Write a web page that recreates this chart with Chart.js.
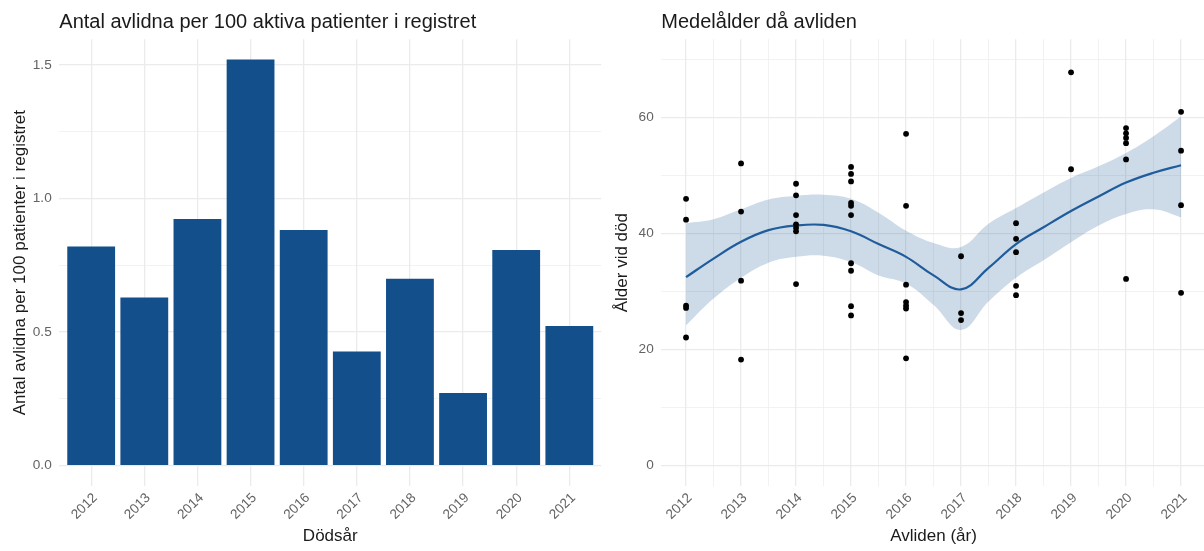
<!DOCTYPE html>
<html lang="sv">
<head>
<meta charset="utf-8">
<title>Avlidna i registret</title>
<script src="https://cdn.jsdelivr.net/npm/chart.js@4.4.1/dist/chart.umd.min.js"></script>
<style>
  html, body { margin: 0; padding: 0; background: #ffffff; overflow: hidden; }
  #wrap { position: relative; width: 1204px; height: 551px; overflow: hidden; }
  .panel { position: absolute; top: 0; }
  #left { left: 0; width: 602px; height: 551px; }
  #right { left: 602px; width: 610px; height: 551px; }
</style>
</head>
<body>
<div id="wrap">
  <div class="panel" id="left"><canvas id="deathsChart" width="602" height="551"></canvas></div>
  <div class="panel" id="right"><canvas id="ageChart" width="610" height="551"></canvas></div>
</div>
<script>
// Deaths per 100 active patients, by year of death
const years = [2012, 2013, 2014, 2015, 2016, 2017, 2018, 2019, 2020, 2021];
const deathsPer100 = [0.82, 0.63, 0.923, 1.52, 0.882, 0.427, 0.70, 0.272, 0.807, 0.523];
const deathsTicks = [0, 0.25, 0.5, 0.75, 1.0, 1.25, 1.5];

// Age at death, one entry per deceased patient
const deathYear = [
  2012, 2012, 2012, 2012, 2012,
  2013, 2013, 2013, 2013,
  2014, 2014, 2014, 2014, 2014, 2014, 2014,
  2015, 2015, 2015, 2015, 2015, 2015, 2015, 2015, 2015, 2015,
  2016, 2016, 2016, 2016, 2016, 2016, 2016,
  2017, 2017, 2017,
  2018, 2018, 2018, 2018, 2018,
  2019, 2019,
  2020, 2020, 2020, 2020, 2020, 2020,
  2021, 2021, 2021, 2021
];
const ageAtDeath = [
  46.0, 42.4, 27.6, 27.2, 22.1,
  52.1, 43.8, 31.9, 18.3,
  48.6, 46.6, 43.2, 41.6, 41.0, 40.4, 31.3,
  51.5, 50.3, 49.0, 45.3, 44.8, 43.2, 34.9, 33.6, 27.5, 25.9,
  57.2, 44.8, 31.2, 28.2, 27.6, 27.1, 18.5,
  36.1, 26.3, 25.1,
  41.8, 39.1, 36.8, 31.0, 29.4,
  67.8, 51.1,
  58.2, 57.3, 56.5, 55.6, 52.8, 32.2,
  61.0, 54.3, 44.9, 29.8
];

// Smoothed mean age with its confidence band
const smoothYears = [2012, 2012.5, 2013, 2013.5, 2014, 2014.5, 2015, 2015.5, 2016, 2016.5,
                     2017, 2017.5, 2018, 2018.5, 2019, 2019.5, 2020, 2020.5, 2021];
const smoothAge   = [32.5, 35.7, 38.6, 40.6, 41.4, 41.5, 40.4, 38.2, 36.0, 32.8,
                     30.4, 34.1, 38.2, 41.1, 43.9, 46.4, 48.8, 50.5, 51.8];
const smoothUpper = [41.8, 42.5, 44.2, 45.9, 46.5, 46.7, 46.0, 43.6, 40.5, 38.4,
                     37.7, 41.7, 44.4, 47.1, 49.6, 51.6, 53.9, 56.8, 60.2];
const smoothLower = [24.2, 28.8, 32.4, 35.0, 36.0, 36.2, 35.1, 32.8, 31.4, 27.7,
                     23.4, 28.3, 32.4, 35.4, 38.5, 41.4, 43.4, 44.2, 42.8];
const ageTicks = [0, 10, 20, 30, 40, 50, 60, 70];
const yearTicks = [2012, 2012.5, 2013, 2013.5, 2014, 2014.5, 2015, 2015.5, 2016, 2016.5,
                   2017, 2017.5, 2018, 2018.5, 2019, 2019.5, 2020, 2020.5, 2021];

const FONT = "'Liberation Sans', Arial, Helvetica, sans-serif";
const GRID = '#ebebeb';
const TICK_COLOR = '#636363';
const TEXT_COLOR = '#1a1a1a';
const BAR_BLUE = '#134f8b';

// Panel title, left-aligned with the plotting area
const panelTitle = {
  id: 'panelTitle',
  afterDraw(chart, args, opts) {
    const ctx = chart.ctx;
    ctx.save();
    ctx.font = `20px ${FONT}`;
    ctx.fillStyle = TEXT_COLOR;
    ctx.textAlign = 'left';
    ctx.textBaseline = 'alphabetic';
    ctx.fillText(opts.text, chart.chartArea.left, opts.baseline);
    ctx.restore();
  }
};

function fixWidth(w) {
  return (scale) => { scale.width = w; scale.paddingTop = 0; scale.paddingBottom = 0; };
}
function fixHeight(h) {
  return (scale) => { scale.height = h; scale.paddingLeft = 0; scale.paddingRight = 0; };
}
function setTicks(values) {
  return (scale) => { scale.ticks = values.map(v => ({ value: v })); };
}

const tickFont = { family: FONT, size: 13.6 };
const axisTitleFont = { family: FONT, size: 17 };

function xAxis(min, max, ticks, title, isMajor) {
  return {
    type: 'linear',
    min, max,
    offset: false,
    afterBuildTicks: setTicks(ticks),
    afterFit: fixHeight(65),
    border: { display: false },
    grid: {
      offset: false,
      drawTicks: false,
      color: GRID,
      lineWidth: ctx => (isMajor(ctx.tick.value) ? 1.3 : 0.65)
    },
    ticks: {
      autoSkip: false,
      minRotation: 45,
      maxRotation: 45,
      padding: 4,
      labelOffset: 4,
      color: TICK_COLOR,
      font: tickFont,
      callback: v => (isMajor(v) ? String(v) : '')
    },
    title: {
      display: true,
      text: title,
      color: TEXT_COLOR,
      font: axisTitleFont,
      padding: { top: 0, bottom: 4 }
    }
  };
}

function yAxis(min, max, ticks, title, isMajor, fmt) {
  return {
    type: 'linear',
    min, max,
    afterBuildTicks: setTicks(ticks),
    afterFit: fixWidth(59.3),
    border: { display: false },
    grid: {
      drawTicks: false,
      color: GRID,
      lineWidth: ctx => (isMajor(ctx.tick.value) ? 1.3 : 0.65)
    },
    ticks: {
      padding: 7.6,
      color: TICK_COLOR,
      font: tickFont,
      callback: v => (isMajor(v) ? fmt(v) : '')
    },
    title: {
      display: true,
      text: title,
      color: TEXT_COLOR,
      font: axisTitleFont,
      padding: { top: 10, bottom: 0 }
    }
  };
}

// Left: bars per year of death
new Chart(document.getElementById('deathsChart'), {
  type: 'bar',
  data: {
    datasets: [{
      data: years.map((x, i) => ({ x, y: deathsPer100[i] })),
      backgroundColor: BAR_BLUE,
      borderWidth: 0,
      categoryPercentage: 1.0,
      barPercentage: 0.9
    }]
  },
  plugins: [panelTitle],
  options: {
    responsive: false,
    animation: false,
    devicePixelRatio: 1,
    layout: { padding: { left: 0, top: 39.3, right: 0.8, bottom: 0 } },
    plugins: {
      legend: { display: false },
      tooltip: { enabled: false },
      panelTitle: { text: 'Antal avlidna per 100 aktiva patienter i registret', baseline: 28 }
    },
    scales: {
      x: xAxis(2011.4, 2021.6, years, 'Dödsår', () => true),
      y: yAxis(-0.076, 1.596, deathsTicks, 'Antal avlidna per 100 patienter i registret',
               v => Math.abs(v * 2 - Math.round(v * 2)) < 1e-9, v => v.toFixed(1))
    }
  }
});

// Right: individual ages at death with smoothed mean and confidence band
new Chart(document.getElementById('ageChart'), {
  type: 'line',
  data: {
    datasets: [
      {
        label: 'Ålder',
        data: deathYear.map((x, i) => ({ x, y: ageAtDeath[i] })),
        showLine: false,
        pointRadius: 2.9,
        pointBorderWidth: 0,
        pointBackgroundColor: '#000000',
        borderColor: 'rgba(0,0,0,0)'
      },
      {
        label: 'Medel',
        data: smoothYears.map((x, i) => ({ x, y: smoothAge[i] })),
        borderColor: '#1f5c9b',
        borderWidth: 2.2,
        pointRadius: 0,
        tension: 0.4,
        fill: false
      },
      {
        label: 'Övre',
        data: smoothYears.map((x, i) => ({ x, y: smoothUpper[i] })),
        borderColor: 'rgba(0,0,0,0)',
        borderWidth: 0,
        pointRadius: 0,
        tension: 0.4,
        backgroundColor: 'rgba(19,79,140,0.21)',
        fill: '+1'
      },
      {
        label: 'Undre',
        data: smoothYears.map((x, i) => ({ x, y: smoothLower[i] })),
        borderColor: 'rgba(0,0,0,0)',
        borderWidth: 0,
        pointRadius: 0,
        tension: 0.4,
        fill: false
      }
    ]
  },
  plugins: [panelTitle],
  options: {
    responsive: false,
    animation: false,
    devicePixelRatio: 1,
    layout: { padding: { left: 0, top: 39.3, right: 6.2, bottom: 0 } },
    plugins: {
      legend: { display: false },
      tooltip: { enabled: false },
      panelTitle: { text: 'Medelålder då avliden', baseline: 28 }
    },
    scales: {
      x: xAxis(2011.55, 2021.45, yearTicks, 'Avliden (år)', v => Number.isInteger(v)),
      y: yAxis(-3.5, 73.5, ageTicks, 'Ålder vid död', v => v % 20 === 0, v => String(v))
    }
  }
});
</script>
</body>
</html>
